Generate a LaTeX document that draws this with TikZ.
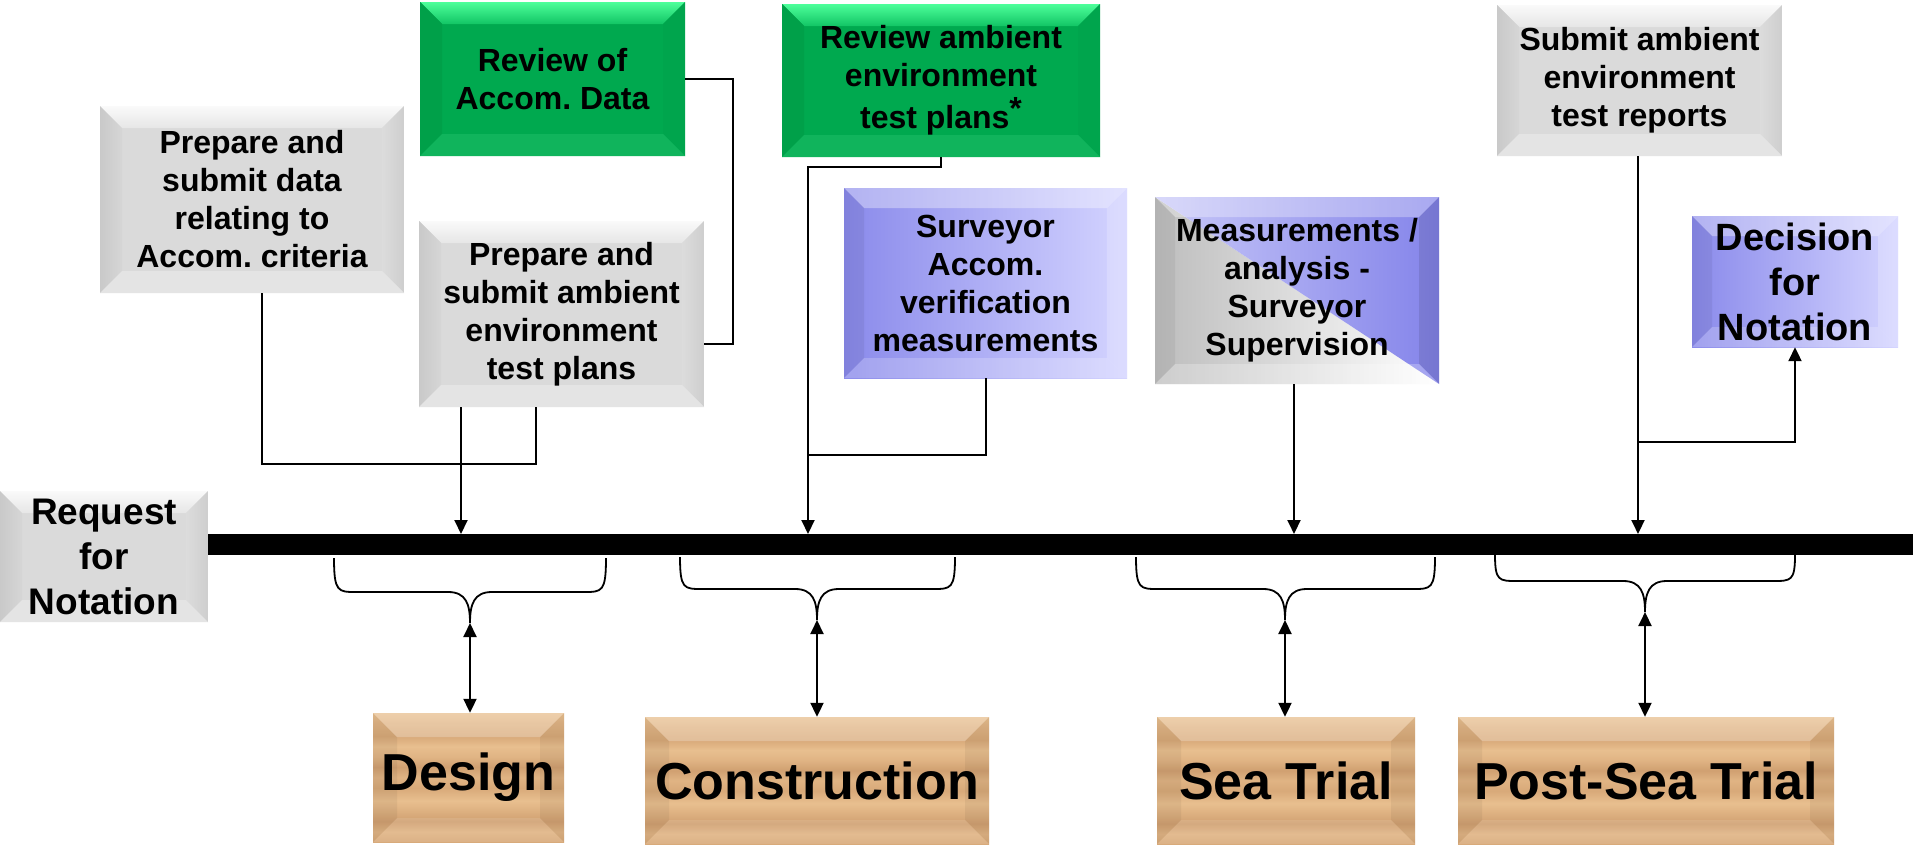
\documentclass[tikz,border=0pt]{standalone}
\usepackage{fontspec}
\setmainfont{Liberation Sans}
\usetikzlibrary{arrows.meta,calc}
\frenchspacing

\definecolor{greyface}{HTML}{DADADA}
\definecolor{greytop}{HTML}{FAFAFA}
\definecolor{greytopb}{HTML}{E6E6E6}
\definecolor{greyleftA}{HTML}{C9C9C9}
\definecolor{greyleftB}{HTML}{D6D6D6}
\definecolor{greyrightA}{HTML}{DCDCDC}
\definecolor{greyrightB}{HTML}{CECECE}
\definecolor{greybot}{HTML}{E4E4E4}
\definecolor{greenface}{HTML}{00A94F}
\definecolor{greentop}{HTML}{4DFF9A}
\definecolor{greentopb}{HTML}{12C565}
\definecolor{greenleft}{HTML}{00A049}
\definecolor{greenright}{HTML}{00A54D}
\definecolor{greenbot}{HTML}{10B45C}
\definecolor{blueL}{HTML}{8A8AEB}
\definecolor{blueR}{HTML}{D4D4FF}
\definecolor{measgrey}{HTML}{BDBDBD}
\definecolor{measbL}{HTML}{C8C8F8}
\definecolor{measbR}{HTML}{8484EA}
\definecolor{woodA}{HTML}{E0B484}
\definecolor{woodB}{HTML}{D8A979}
\definecolor{woodC}{HTML}{D0A071}
\definecolor{woodD}{HTML}{E8BF8F}

\pgfdeclareverticalshading{woodgrain}{100bp}{color(0bp)=(woodA); color(25bp)=(woodB); color(29bp)=(woodA); color(33bp)=(woodC); color(38bp)=(woodA); color(41bp)=(woodD); color(46bp)=(woodB); color(50bp)=(woodA); color(54bp)=(woodC); color(58bp)=(woodA); color(62bp)=(woodD); color(66bp)=(woodB); color(71bp)=(woodA); color(75bp)=(woodD); color(100bp)=(woodD)}

\newcommand\bvlcorners[1]{%
  \path (path picture bounding box.north west) coordinate (pNW)
        (path picture bounding box.north east) coordinate (pNE)
        (path picture bounding box.south west) coordinate (pSW)
        (path picture bounding box.south east) coordinate (pSE);
  \path ($(pNW)+(#1,-#1)$) coordinate (iNW)
        ($(pNE)+(-#1,-#1)$) coordinate (iNE)
        ($(pSW)+(#1,#1)$) coordinate (iSW)
        ($(pSE)+(-#1,#1)$) coordinate (iSE);}
\newcommand\bvlfacets[4]{%
  \path[#1] (pNW) -- (pNE) -- (iNE) -- (iNW) -- cycle;
  \path[#2] (pNW) -- (iNW) -- (iSW) -- (pSW) -- cycle;
  \path[#3] (pNE) -- (iNE) -- (iSE) -- (pSE) -- cycle;
  \path[#4] (pSW) -- (iSW) -- (iSE) -- (pSE) -- cycle;}

\tikzset{
  box/.style={rectangle, inner sep=0pt, align=center,
    font=\bfseries\fontsize{32}{38}\selectfont},
  greybox/.style={box, fill=greyface, path picture={\bvlcorners{22pt}%
    \bvlfacets{top color=greytop,bottom color=greytopb}{left color=greyleftA,right color=greyleftB}{left color=greyrightA,right color=greyrightB}{fill=greybot}}},
  greenbox/.style={box, fill=greenface, path picture={\bvlcorners{22pt}%
    \bvlfacets{top color=greentop,bottom color=greentopb}{fill=greenleft}{fill=greenright}{fill=greenbot}}},
  bluebox/.style={box, left color=blueL, right color=blueR, path picture={\bvlcorners{20pt}%
    \bvlfacets{fill=white,fill opacity=.35}{fill=black,fill opacity=.06}{fill=white,fill opacity=.2}{fill=white,fill opacity=.2}}},
  measbox/.style={box, path picture={\bvlcorners{20pt}%
    \shade[left color=measgrey,right color=white] (pNW) -- (pSE) -- (pSW) -- cycle;
    \shade[left color=measbL,right color=measbR] (pNW) -- (pNE) -- (pSE) -- cycle;
    \bvlfacets{fill=white,fill opacity=.3}{fill=black,fill opacity=.05}{fill=black,fill opacity=.1}{fill=white,fill opacity=.25}}},
  woodbox/.style={box, shading=woodgrain, font=\bfseries\fontsize{52}{60}\selectfont,
    path picture={\bvlcorners{24pt}%
    \bvlfacets{fill=white,fill opacity=.25}{fill=black,fill opacity=.05}{fill=black,fill opacity=.05}{fill=white,fill opacity=.1}}},
  conn/.style={draw, line width=2pt},
  arr/.style={conn, -{Triangle[length=14pt,width=13pt]}},
  dbl/.style={conn, {Triangle[length=14pt,width=13pt]}-{Triangle[length=14pt,width=13pt]}},
  brc/.style={draw, line width=1.8pt},
}

\newcommand\phbrace[7]{% name, x1, x2, cx, ytop, yh, ytip
  \draw[brc] (#2,#5) .. controls (#2,#6) and ({#2+4},#6) .. ({#2+22},#6)
    -- ({#4-22},#6) .. controls ({#4-4},#6) and (#4,{#6+12}) .. (#4,#7) coordinate (#1)
    .. controls (#4,{#6+12}) and ({#4+4},#6) .. ({#4+22},#6)
    -- ({#3-22},#6) .. controls ({#3-4},#6) and (#3,#6) .. (#3,#5);}

\begin{document}
\begin{tikzpicture}[x=1pt,y=-1pt]
\useasboundingbox (0,0) rectangle (1913,846);
\fill[white] (0,0) rectangle (1913,846);

% upper boxes
\node[greybox, minimum width=304pt, minimum height=187pt] (prepdata) at (252,199.5)
  {Prepare and\\submit data\\relating to\\Accom. criteria};
\node[greenbox, minimum width=265pt, minimum height=154pt] (revdata) at (552.5,79)
  {Review of\\Accom. Data};
\node[greybox, minimum width=285pt, minimum height=186pt] (prepamb) at (561.5,314)
  {Prepare and\\submit ambient\\environment\\test plans};
\node[greenbox, minimum width=318pt, minimum height=153pt] (revamb) at (941,80.5)
  {Review ambient\\environment\\[4pt]test plans\raisebox{9pt}{*}};
\node[bluebox, minimum width=283pt, minimum height=190pt] (survey) at (985.5,283)
  {Surveyor\\Accom.\\verification\\measurements};
\node[measbox, minimum width=284pt, minimum height=187pt] (meas) at (1297,290.5)
  {Measurements /\\analysis -\\Surveyor\\Supervision};
\node[greybox, minimum width=285pt, minimum height=151pt] (subrep) at (1639.5,80.5)
  {Submit ambient\\environment\\test reports};
\node[bluebox, minimum width=206pt, minimum height=131pt,
  font=\bfseries\fontsize{38}{45}\selectfont] (decision) at (1795,281.5)
  {Decision\\for\\Notation};
\node[greybox, minimum width=208pt, minimum height=131pt,
  font=\bfseries\fontsize{37}{45}\selectfont] (request) at (104,556.5)
  {Request\\for\\Notation};

% phase boxes
\node[woodbox, minimum width=191pt, minimum height=129pt] (design) at (468.5,777.5) {Design};
\node[woodbox, minimum width=344pt, minimum height=127pt] (constr) at (817,780.5) {Construction};
\node[woodbox, minimum width=258pt, minimum height=127pt] (sea) at (1286,780.5) {Sea Trial};
\node[woodbox, minimum width=376pt, minimum height=127pt] (post) at (1646,780.5) {Post-Sea Trial};

% timeline bar
\coordinate (barL) at (208,544.5);
\coordinate (barR) at (1913,544.5);
\draw[line width=21pt] (request.east |- barL) -- (barR);

% connectors above the bar
\coordinate (c1) at (262,464);
\coordinate (c2) at (536,464);
\draw[conn] (prepdata.south -| c1) -- (c1) -- (c2) -- (prepamb.south -| c2);
\coordinate (b1) at (461,534);
\draw[arr] (prepamb.south -| b1) -- (b1);

\coordinate (r2) at (733,344);
\draw[conn] (revdata.east) -| (r2) -- (r2 -| prepamb.east);

\coordinate (r3) at (808,167);
\coordinate (r4) at (808,455);
\coordinate (b2) at (808,534);
\draw[arr] (revamb.south) |- (r3) -- (b2);
\draw[conn] (survey.south) |- (r4);

\coordinate (b3) at (1294,534);
\draw[arr] (meas.south -| b3) -- (b3);

\coordinate (b4) at (1638,534);
\coordinate (r5) at (1638,442);
\draw[arr] (subrep.south -| b4) -- (b4);
\draw[arr] (r5) -| (decision.south);

% braces below the bar
\phbrace{tD}{334}{606}{470}{558}{592}{623}
\phbrace{tC}{680}{955}{817}{557}{589}{620}
\phbrace{tS}{1136}{1435}{1285}{557}{589}{620}
\phbrace{tP}{1495}{1795}{1645}{555}{581}{612}

\draw[dbl] (tD) -- (tD |- design.north);
\draw[dbl] (tC) -- (tC |- constr.north);
\draw[dbl] (tS) -- (tS |- sea.north);
\draw[dbl] (tP) -- (tP |- post.north);
\end{tikzpicture}
\end{document}
